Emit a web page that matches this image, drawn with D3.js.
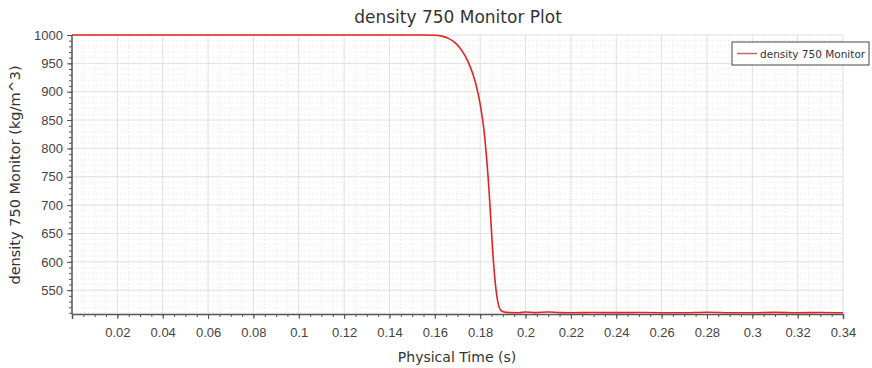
<!DOCTYPE html>
<html>
<head>
<meta charset="utf-8">
<script src="https://cdn.jsdelivr.net/npm/d3@7"></script>
<style>
  body { margin: 0; background: #fff; }
  svg { display: block; font-family: "DejaVu Sans", Verdana, sans-serif; }
</style>
</head>
<body>
<div id="chart"></div>
<script>
// monitor samples
const timeValues = [0, 0.02, 0.04, 0.06, 0.08, 0.1, 0.12, 0.14, 0.155, 0.16, 0.163, 0.166, 0.169, 0.172, 0.175, 0.178, 0.18, 0.182, 0.184, 0.1855, 0.187, 0.188, 0.189, 0.1905, 0.193, 0.197, 0.2, 0.204, 0.21, 0.215, 0.22, 0.23, 0.24, 0.25, 0.26, 0.27, 0.28, 0.29, 0.3, 0.31, 0.32, 0.33, 0.34];
const densityValues = [1000, 1000, 1000, 1000, 1000, 1000, 1000, 1000, 999.9, 999.5, 998, 994, 986, 972, 950, 915, 878, 820, 720, 620, 550, 525, 515, 511.5, 510.5, 510.3, 511.5, 510.5, 511.6, 510.4, 510.2, 510.6, 510.4, 510.6, 510.3, 510.2, 511, 510.3, 510.1, 510.8, 510.2, 510.6, 510.2];

const xTicks = [0.02, 0.04, 0.06, 0.08, 0.1, 0.12, 0.14, 0.16, 0.18, 0.2, 0.22, 0.24, 0.26, 0.28, 0.3, 0.32, 0.34];
const yTicks = [550, 600, 650, 700, 750, 800, 850, 900, 950, 1000];
const seriesName = 'density 750 Monitor';

const width = 872, height = 368;
const margin = { top: 35, right: 29, bottom: 54, left: 72 };

const svg = d3.select('#chart').append('svg')
    .attr('width', width)
    .attr('height', height);

const x = d3.scaleLinear().domain([0, 0.34]).range([margin.left, width - margin.right]);
const y = d3.scaleLinear().domain([508, 1000]).range([height - margin.bottom, margin.top]);

const plotBottom = height - margin.bottom;

// minor grid
const xMinor = d3.range(0.005, 0.3401, 0.005);
const yMinor = d3.range(510, 1000.1, 10);

svg.append('g').selectAll('line')
    .data(xMinor)
    .enter().append('line')
    .attr('x1', d => x(d)).attr('x2', d => x(d))
    .attr('y1', margin.top).attr('y2', plotBottom)
    .attr('stroke', '#eeeeee')
    .attr('stroke-dasharray', '2,2');

svg.append('g').selectAll('line')
    .data(yMinor)
    .enter().append('line')
    .attr('x1', margin.left).attr('x2', x(0.34))
    .attr('y1', d => y(d)).attr('y2', d => y(d))
    .attr('stroke', '#eeeeee')
    .attr('stroke-dasharray', '2,2');

// major grid
svg.append('g').selectAll('line')
    .data(xTicks)
    .enter().append('line')
    .attr('x1', d => x(d)).attr('x2', d => x(d))
    .attr('y1', margin.top).attr('y2', plotBottom)
    .attr('stroke', '#e2e2e2');

svg.append('g').selectAll('line')
    .data(yTicks)
    .enter().append('line')
    .attr('x1', margin.left).attr('x2', x(0.34))
    .attr('y1', d => y(d)).attr('y2', d => y(d))
    .attr('stroke', '#e2e2e2');

// axes
const styleLabels = g => g.selectAll('text')
    .attr('fill', '#444')
    .style('font-size', '13px');

const xAxis = svg.append('g')
    .attr('transform', `translate(0,${plotBottom})`);
xAxis.append('g')
    .call(d3.axisBottom(x).tickValues(xMinor).tickSize(3).tickFormat(''))
    .call(g => g.select('.domain').remove())
    .selectAll('line').attr('stroke', '#555');
xAxis.append('g')
    .call(d3.axisBottom(x).tickValues(xTicks).tickSize(5).tickFormat(d3.format('~g')).tickPadding(9))
    .call(g => g.select('.domain').attr('stroke', '#555').attr('stroke-width', 1.5))
    .call(g => g.selectAll('line').attr('stroke', '#555'))
    .call(styleLabels);

const yAxis = svg.append('g')
    .attr('transform', `translate(${margin.left},0)`);
yAxis.append('g')
    .call(d3.axisLeft(y).tickValues(yMinor).tickSize(3).tickFormat(''))
    .call(g => g.select('.domain').remove())
    .selectAll('line').attr('stroke', '#555');
yAxis.append('g')
    .call(d3.axisLeft(y).tickValues(yTicks).tickSize(5).tickPadding(4).tickFormat(d3.format('d')))
    .call(g => g.select('.domain').attr('stroke', '#555').attr('stroke-width', 1.5).attr('d', `M0,${margin.top}V${plotBottom}`))
    .call(g => g.selectAll('line').attr('stroke', '#555'))
    .call(styleLabels);

// series line
const line = d3.line()
    .x((d, i) => x(timeValues[i]))
    .y(d => y(d))
    .curve(d3.curveMonotoneX);

svg.append('path')
    .datum(densityValues)
    .attr('fill', 'none')
    .attr('stroke', '#e02424')
    .attr('stroke-width', 1.6)
    .attr('d', line);

// title
svg.append('text')
    .attr('x', 458)
    .attr('y', 23)
    .attr('text-anchor', 'middle')
    .attr('fill', '#333')
    .style('font-size', '17px')
    .text('density 750 Monitor Plot');

// axis titles
svg.append('text')
    .attr('x', 457)
    .attr('y', 362)
    .attr('text-anchor', 'middle')
    .attr('fill', '#333')
    .style('font-size', '14px')
    .text('Physical Time (s)');

svg.append('text')
    .attr('transform', 'translate(20,175) rotate(-90)')
    .attr('text-anchor', 'middle')
    .attr('fill', '#333')
    .style('font-size', '14.5px')
    .text('density 750 Monitor (kg/m^3)');

// legend
const legend = svg.append('g').attr('transform', 'translate(732,42)');
legend.append('rect')
    .attr('width', 137).attr('height', 23)
    .attr('fill', '#fff')
    .attr('stroke', '#444');
legend.append('line')
    .attr('x1', 5).attr('x2', 25)
    .attr('y1', 11.5).attr('y2', 11.5)
    .attr('stroke', '#b86a6a')
    .attr('stroke-width', 1.5);
legend.append('text')
    .attr('x', 28).attr('y', 15.5)
    .attr('fill', '#333')
    .style('font-size', '10.5px')
    .text(seriesName);
</script>
</body>
</html>
